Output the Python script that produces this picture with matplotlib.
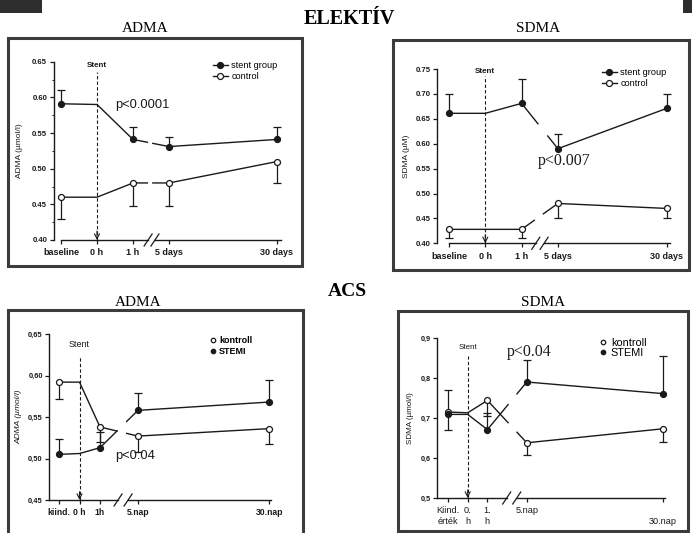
import numpy as np
import matplotlib
matplotlib.use("Agg")
import matplotlib.pyplot as plt
from matplotlib.lines import Line2D
from matplotlib.patches import Rectangle

W, H = 692, 533
INK = "#1a1a1a"
FRAME = "#3c3c3c"
SANS = ["Liberation Sans", "DejaVu Sans"]
SERIF = ["Liberation Serif", "DejaVu Serif"]

# ---------------------------------------------------------------------
# data, ELEKTÍV (top row)
el_labels = ["baseline", "0 h", "1 h", "5 days", "30 days"]
el_x = [0, 1, 2, 3, 6]
el_adma_stent = [0.591, 0.590, 0.541, 0.531, 0.541]
el_adma_stent_err = [0.019, 0, 0.018, 0.014, 0.018]
el_adma_ctrl = [0.460, 0.460, 0.480, 0.480, 0.510]
el_adma_ctrl_err = [0.031, 0, 0.033, 0.033, 0.030]
el_sdma_stent = [0.661, 0.661, 0.681, 0.590, 0.671]
el_sdma_stent_err = [0.039, 0, 0.049, 0.029, 0.029]
el_sdma_ctrl = [0.428, 0.428, 0.428, 0.480, 0.470]
el_sdma_ctrl_err = [0.018, 0, 0.018, 0.030, 0.020]

# data, ACS (bottom row)
acs_adma_labels = ["kiind.", "0 h", "1h", "5.nap", "30.nap"]
acs_adma_x = [0, 1, 2, 3.85, 10.25]
acs_adma_kontroll = [0.592, 0.592, 0.538, 0.527, 0.536]
acs_adma_kontroll_err = [0.020, 0, 0.018, 0.019, 0.018]
acs_adma_stemi = [0.505, 0.506, 0.513, 0.558, 0.568]
acs_adma_stemi_err = [0.018, 0, 0.019, 0.021, 0.026]

acs_sdma_labels = ["Kiind.\nérték", "0.\nh", "1.\nh", "5.nap", "\n30.nap"]
acs_sdma_x = [0, 1, 2, 4, 10.9]
acs_sdma_kontroll = [0.715, 0.713, 0.744, 0.638, 0.673]
acs_sdma_kontroll_err = [0.045, 0, 0.039, 0.031, 0.033]
acs_sdma_stemi = [0.709, 0.709, 0.671, 0.790, 0.761]
acs_sdma_stemi_err = [0.061, 0, 0.041, 0.055, 0.094]


# ---------------------------------------------------------------------
def frame(l, t, r, b, **kw):
    fig.patches.append(Rectangle((l / W, 1 - b / H), (r - l) / W, (b - t) / H,
                                 transform=fig.transFigure, **kw))


def make_axes(yaxis_px, x0_px, unit_px, right_px, top_px, bottom_px, ylim):
    ax = fig.add_axes([yaxis_px / W, 1 - bottom_px / H,
                       (right_px - yaxis_px) / W, (bottom_px - top_px) / H])
    ax.set_xlim((yaxis_px - x0_px) / unit_px, (right_px - x0_px) / unit_px)
    ax.set_ylim(*ylim)
    ax.patch.set_alpha(0)
    for s in ("top", "right", "bottom"):
        ax.spines[s].set_visible(False)
    ax.spines["left"].set_linewidth(1.0)
    ax.spines["left"].set_color(INK)
    ax._unit = unit_px
    ax._hpx = bottom_px - top_px
    return ax


def x_axis(ax, x, labels, brk, start, size, weight, pad):
    trans = ax.get_xaxis_transform()
    ax.plot([start, brk[0]], [0, 0], transform=trans, color=INK, lw=1.0,
            clip_on=False)
    ax.plot([brk[1], x[-1] + 0.1], [0, 0], transform=trans, color=INK,
            lw=1.0, clip_on=False)
    dx = 4 / ax._unit
    dy = 6 / ax._hpx
    for b in brk:
        ax.plot([b - dx, b + dx], [-dy, dy], transform=trans, color=INK,
                lw=0.9, clip_on=False)
    ax.set_xticks(x)
    ax.set_xticklabels(labels, fontfamily=SANS, fontsize=size,
                       fontweight=weight, linespacing=1.3)
    ax.tick_params(axis="x", direction="out", length=3, width=0.9,
                   color=INK, labelcolor=INK, pad=pad)


def y_axis(ax, ticks, fmt, size, weight, minor=None):
    ax.set_yticks(ticks)
    ax.set_yticklabels([fmt(t) for t in ticks], fontfamily=SANS,
                       fontsize=size, fontweight=weight)
    ax.tick_params(axis="y", direction="out", length=3, width=0.9,
                   color=INK, labelcolor=INK, pad=1.5)
    if minor is not None:
        ax.set_yticks(minor, minor=True)
        ax.tick_params(axis="y", which="minor", length=1.8, width=0.7,
                       color=INK)


def series(ax, x, y, err, sign, filled, gap):
    x = np.asarray(x, float)
    y = np.asarray(y, float)
    err = np.asarray(err, float)
    lo, hi = gap
    left = x < lo
    ax.plot(np.r_[x[left], lo], np.r_[y[left], np.interp(lo, x, y)],
            color=INK, lw=1.0, zorder=3, clip_on=False)
    ax.plot(np.r_[hi, x[~left]], np.r_[np.interp(hi, x, y), y[~left]],
            color=INK, lw=1.0, zorder=3, clip_on=False)
    show = np.arange(len(x)) != 1
    ends = y + sign * err
    has = show & (err > 0)
    ax.vlines(x[has], y[has], ends[has], color=INK, lw=0.9, zorder=2)
    ax.plot(x[has], ends[has], ls="none", marker="_", ms=6, mew=0.9,
            color=INK, zorder=2, clip_on=False)
    ax.plot(x[show], y[show], ls="none", marker="o", ms=4.3,
            mfc=INK if filled else "white", mec=INK, mew=0.9, zorder=4,
            clip_on=False)


def stent(ax, y_top, y_text, size, weight):
    y0 = ax.get_ylim()[0]
    ax.plot([1, 1], [y0, y_top], color=INK, lw=0.8, ls=(0, (3, 2)), zorder=1)
    span = ax.get_ylim()[1] - y0
    ax.annotate("", xy=(1, y0), xytext=(1, y0 + 0.05 * span),
                arrowprops=dict(arrowstyle="->", lw=0.8, color=INK,
                                shrinkA=0, shrinkB=0, mutation_scale=9))
    ax.text(1, y_text, "Stent", ha="center", va="center", fontsize=size,
            fontweight=weight, fontfamily=SANS, color=INK)


def legend(ax, items, x_px, y_px, size, weight, line, spacing):
    handles = [Line2D([], [], color=INK, lw=1.0 if line else 0, marker="o",
                      ms=4.3 if line else 3.2,
                      mfc=INK if f else "white", mec=INK, mew=0.9)
               for _, f in items]
    ax.legend(handles, [t for t, _ in items], loc="upper left",
              bbox_to_anchor=(x_px / W, 1 - y_px / H),
              bbox_transform=fig.transFigure, frameon=False,
              prop=dict(family=SANS, size=size, weight=weight),
              handlelength=1.6 if line else 0.6, handletextpad=0.4,
              labelspacing=spacing, borderpad=0, borderaxespad=0)


# ---------------------------------------------------------------------
fig = plt.figure(figsize=(W / 100, H / 100), dpi=100)

# corner blocks of the slide
frame(0, 0, 42, 13, fc="#2e2e2e", ec="none")
frame(683, 0, 692, 13, fc="#2e2e2e", ec="none")

# panel frames
frame(8, 38, 302, 266, fill=False, ec=FRAME, lw=2.2)
frame(393, 40, 689, 270, fill=False, ec=FRAME, lw=2.2)
frame(8, 310, 303, 545, fill=False, ec=FRAME, lw=2.2)
frame(398, 311, 688, 531, fill=False, ec=FRAME, lw=2.2)

fig.text(349 / W, 1 - 19 / H, "ELEKTÍV", ha="center", va="center",
         fontfamily=SERIF, fontweight="bold", fontsize=14.5)
fig.text(347 / W, 1 - 291 / H, "ACS", ha="center", va="center",
         fontfamily=SERIF, fontweight="bold", fontsize=14)
for xp, yp in [(145, 28), (538, 28), (138, 302), (543, 302)]:
    fig.text(xp / W, 1 - yp / H, "ADMA" if xp < 300 else "SDMA",
             ha="center", va="center", fontfamily=SERIF, fontsize=11)

dot = lambda t: f"{t:.2f}"

# --- panel 1: ELEKTÍV ADMA
ax = make_axes(53.5, 61, 36, 290, 61.7, 240, (0.40, 0.65))
x_axis(ax, el_x, el_labels, (2.42, 2.61), 0, 6.5, "bold", 3)
y_axis(ax, np.arange(0.40, 0.651, 0.05), dot, 5.6, "bold",
       minor=np.arange(0.425, 0.65, 0.05))
series(ax, el_x, el_adma_stent, el_adma_stent_err, 1, True, (2.4, 2.55))
series(ax, el_x, el_adma_ctrl, el_adma_ctrl_err, -1, False, (2.4, 2.55))
stent(ax, 0.635, 0.645, 5.8, "bold")
ax.text(1.5, 0.589, "p<0.0001", fontfamily=SANS, fontsize=9.3, color=INK,
        va="center")
ax.set_ylabel("ADMA (µmol/l)", fontfamily=SANS, fontsize=6, color=INK)
ax.yaxis.set_label_coords(-0.13, 0.5)
legend(ax, [("stent group", True), ("control", False)], 213, 61, 6.6,
       "normal", True, 0.25)

# --- panel 2: ELEKTÍV SDMA
ax = make_axes(437, 449, 36.3, 680, 69, 243.3, (0.40, 0.75))
x_axis(ax, el_x, el_labels, (2.39, 2.62), 0, 6.5, "bold", 3)
y_axis(ax, np.arange(0.40, 0.751, 0.05), dot, 5.6, "bold")
series(ax, el_x, el_sdma_stent, el_sdma_stent_err, 1, True, (2.45, 2.72))
series(ax, el_x, el_sdma_ctrl, el_sdma_ctrl_err, -1, False, (2.35, 2.6))
stent(ax, 0.735, 0.745, 5.8, "bold")
ax.text(2.45, 0.566, "p<0.007", fontfamily=SERIF, fontsize=11.5, color=INK,
        va="center")
ax.set_ylabel("SDMA (µM)", fontfamily=SANS, fontsize=6, color=INK)
ax.yaxis.set_label_coords(-0.11, 0.5)
legend(ax, [("stent group", True), ("control", False)], 602, 68, 6.6,
       "normal", True, 0.25)

# --- panel 3: ACS ADMA
comma2 = lambda t: f"{t:.2f}".replace(".", ",")
ax = make_axes(49, 59, 20.5, 280, 334, 500, (0.45, 0.65))
x_axis(ax, acs_adma_x, acs_adma_labels, (2.88, 3.37), -0.49, 6.2,
       "bold", 3)
y_axis(ax, np.arange(0.45, 0.651, 0.05), comma2, 5.4, "bold")
series(ax, acs_adma_x, acs_adma_kontroll, acs_adma_kontroll_err, -1, False,
       (2.83, 3.3))
series(ax, acs_adma_x, acs_adma_stemi, acs_adma_stemi_err, 1, True,
       (2.83, 3.3))
stent(ax, 0.623, 0.637, 6.5, "normal")
ax.text(2.75, 0.503, "p<0.04", fontfamily=SANS, fontsize=9.3, color=INK,
        va="center")
ax.set_ylabel("ADMA (µmol/l)", fontfamily=SANS, fontsize=6, color=INK,
              fontstyle="italic")
ax.yaxis.set_label_coords(-0.115, 0.5)
legend(ax, [("kontroll", False), ("STEMI", True)], 210, 336, 6.5,
       "bold", False, 0.2)

# --- panel 4: ACS SDMA
comma1 = lambda t: f"{t:.1f}".replace(".", ",")
ax = make_axes(437, 448, 19.7, 672, 338, 498, (0.5, 0.9))
x_axis(ax, acs_sdma_x, acs_sdma_labels, (2.98, 3.49), -0.56, 6.6,
       "normal", 3)
y_axis(ax, np.arange(0.5, 0.91, 0.1), comma1, 5.3, "bold")
series(ax, acs_sdma_x, acs_sdma_kontroll, acs_sdma_kontroll_err, -1, False,
       (3.05, 3.5))
series(ax, acs_sdma_x, acs_sdma_stemi, acs_sdma_stemi_err, 1, True,
       (3.05, 3.5))
stent(ax, 0.855, 0.877, 5.8, "normal")
ax.text(3.0, 0.865, "p<0.04", fontfamily=SERIF, fontsize=11.5, color=INK,
        va="center")
ax.set_ylabel("SDMA (µmol/l)", fontfamily=SANS, fontsize=5.8, color=INK)
ax.yaxis.set_label_coords(-0.1, 0.5)
legend(ax, [("kontroll", False), ("STEMI", True)], 600, 338, 7.8,
       "normal", False, 0.0)

fig.savefig("out.png", dpi=100)
